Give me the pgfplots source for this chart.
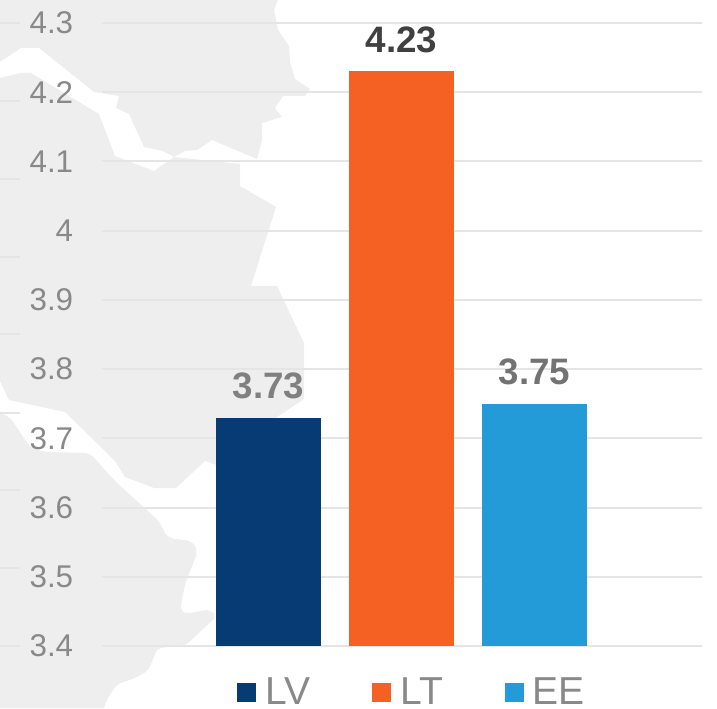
\documentclass[border=0pt]{standalone}
\usepackage{fontspec}
\setmainfont{Liberation Sans}
\usepackage{pgfplots}
\pgfplotsset{compat=1.18}
\definecolor{mapgray}{HTML}{EEEEEE}
\definecolor{gridgray}{HTML}{E5E5E5}
\definecolor{ticktext}{HTML}{898989}
\definecolor{barlv}{HTML}{073B74}
\definecolor{barlt}{HTML}{F56023}
\definecolor{baree}{HTML}{229BD8}

\begin{document}
\begin{tikzpicture}
\path[use as bounding box] (0,0) rectangle (358.5pt,354pt);

% background map, traced in image pixels (origin top left)
\begin{scope}[x=0.5pt,y=-0.5pt,yshift=354pt]
  \fill[mapgray] (0,0) -- (278,0) -- (274,10) -- (278,30) -- (289,46) -- (290,62) -- (295,79)
    -- (310,89) -- (305,96) -- (283,96) -- (275,108) -- (282,117) -- (262,123) -- (262,140)
    -- (257,159) -- (212,140) -- (197,150) -- (185,151) -- (174,157) -- (163,151) -- (144,147)
    -- (129,114) -- (116,108) -- (119,96) -- (94,92) -- (39,48) -- (21,48) -- (0,62) -- cycle;
  \fill[mapgray] (0,78) -- (20,73) -- (31,73) -- (99,114) -- (115,156) -- (154,171) -- (174,157)
    -- (240,164) -- (240,186) -- (276,207) -- (251,286) -- (277,286) -- (304,343) -- (304,399)
    -- (277,417) -- (217,465) -- (205,461) -- (176,488) -- (154,488) -- (125,477) -- (115,461)
    -- (65,412) -- (9,400) -- (0,381) -- cycle;
  \fill[mapgray] (0,413) [rounded corners=3pt] -- (10,417) -- (30,447) -- (45,452) -- (90,453) -- (115,481)
    -- (160,522) -- (164,532) -- (168,538) -- (192,541) -- (198,551) -- (185,584) -- (180,611)
    -- (187,614) -- (204,610) -- (210,610) -- (217,616) -- (185,646) -- (157,648) -- (152,662)
    -- (148,671) -- (133,679) -- (117,684) -- (106,701) [sharp corners] -- (104,708) -- (0,708) -- cycle;
  % stub ticks of the second axis at the left edge
  \foreach \yy in {23,101,179,257,334,413,490,568,646}
    \draw[gridgray,line width=1pt] (0,\yy) -- (20,\yy);
\end{scope}

\begin{axis}[
  at={(51pt,31pt)},
  anchor=south west,
  scale only axis,
  width=300pt,
  height=311.5pt,
  xmin=-1.252, xmax=3.259,
  ymin=3.4, ymax=4.3,
  xtick=\empty,
  ytick={3.4,3.5,3.6,3.7,3.8,3.9,4,4.1,4.2,4.3},
  ymajorgrids,
  grid style={gridgray,line width=1pt},
  axis line style={draw=none},
  major tick length=0pt,
  clip=false,
  /pgf/number format/assume math mode=true,
  yticklabel style={font=\fontsize{15.7}{16}\selectfont,text=ticktext,anchor=east,inner sep=0pt,xshift=-14.2pt},
  ybar,
  bar width=52.5pt,
  nodes near coords,
  every node near coord/.append style={font=\fontsize{18.4}{18}\selectfont\bfseries,anchor=south,inner sep=0pt,yshift=9pt,
    /pgf/number format/fixed,/pgf/number format/fixed zerofill,/pgf/number format/precision=2},
  legend columns=3,
  legend style={at={(0.225,-0.0754)},anchor=west,draw=none,fill=none,inner sep=0pt,
    font=\fontsize{19.5}{18}\selectfont,text=ticktext,
    /tikz/column 1/.style={column sep=2.5pt},
    /tikz/column 3/.style={column sep=2.5pt},
    /tikz/column 5/.style={column sep=2.5pt},
    /tikz/column 2/.style={column sep=29pt},
    /tikz/column 4/.style={column sep=29pt}},
  legend image code/.code={\fill[#1] (0pt,-4.75pt) rectangle (9.5pt,4.75pt);},
]
\addplot[bar shift=0pt,fill=barlv,draw=none,every node near coord/.append style={text=black!50}] coordinates {(0,3.73)};
\addlegendentry{LV}
\addplot[bar shift=0pt,fill=barlt,draw=none,every node near coord/.append style={text=black!75}] coordinates {(1,4.23)};
\addlegendentry{LT}
\addplot[bar shift=0pt,fill=baree,draw=none,every node near coord/.append style={text=black!55}] coordinates {(2,3.75)};
\addlegendentry{EE}
\end{axis}
\end{tikzpicture}
\end{document}
